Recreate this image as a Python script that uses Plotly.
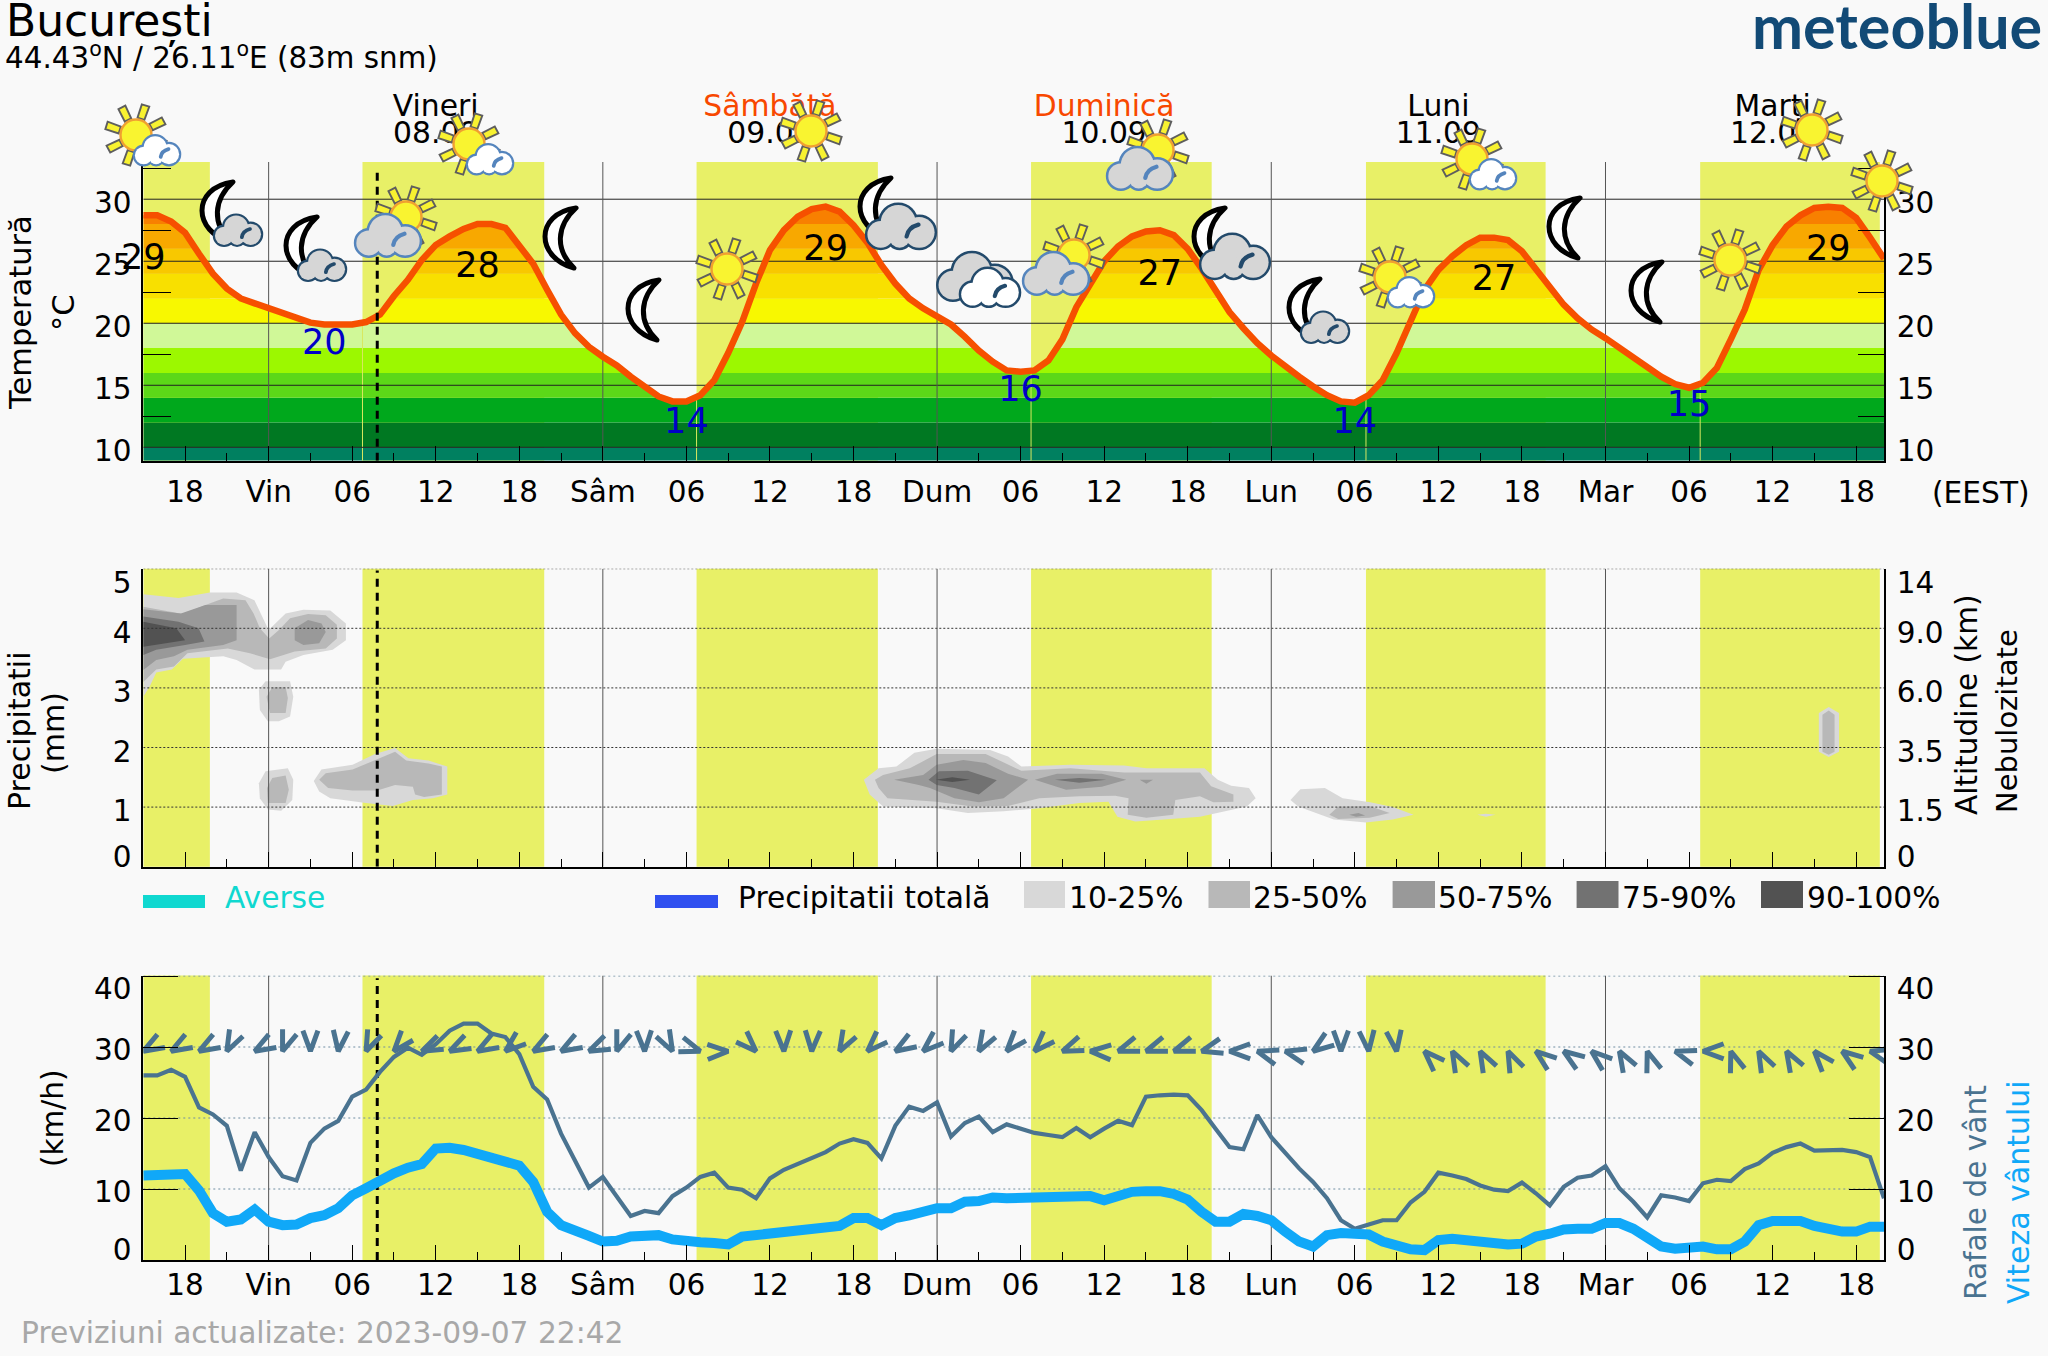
import base64, math
import plotly.graph_objects as go

W, H = 2048, 1356
FONT = "DejaVu Sans"
BG = "#f9f9f9"
YELLOW = "#e8f067"
PX_PER_H = 13.925

hours = list(range(126))
tick_hours = [3, 9, 15, 21, 27, 33, 39, 45, 51, 57, 63, 69, 75, 81, 87, 93, 99, 105, 111, 117, 123]
tick_labels = ["18", "Vin", "06", "12", "18", "Sâm", "06", "12", "18", "Dum", "06", "12", "18",
               "Lun", "06", "12", "18", "Mar", "06", "12", "18"]
minor_hours = [6, 12, 18, 24, 30, 36, 42, 48, 54, 60, 66, 72, 78, 84, 90, 96, 102, 108, 114, 120]
midnights = [9, 33, 57, 81, 105]
now_hour = 16.8
day_bands = [(0, 4.78), (15.74, 28.79), (39.73, 52.75), (63.75, 76.72), (87.8, 100.7), (111.8, 124.7)]
sunrises = [15.74, 39.73, 63.75, 87.8, 111.8]

temperature = [28.7, 28.7, 28.2, 27.3, 25.6, 24.0, 22.8, 22.0, 21.6, 21.2, 20.9, 20.4, 20.05, 19.9, 19.9, 19.9,
               20.1, 20.7, 22.2, 23.5, 25.1, 26.3, 27.0, 27.6, 28.0, 28.0, 27.7, 26.3, 24.8, 22.7, 20.7, 19.2,
               18.1, 17.3, 16.6, 15.7, 14.9, 14.1, 13.7, 13.7, 14.2, 15.4, 17.6, 20.1, 23.2, 25.9, 27.5, 28.6,
               29.2, 29.4, 29.0, 27.9, 26.5, 24.7, 23.2, 22.0, 21.2, 20.5, 19.9, 18.9, 17.8, 16.9, 16.2, 16.1,
               16.2, 17.0, 18.7, 21.3, 23.2, 25.0, 26.2, 27.0, 27.4, 27.5, 27.1, 26.0, 24.4, 22.7, 20.9, 19.6,
               18.4, 17.4, 16.5, 15.7, 14.9, 14.2, 13.7, 13.6, 14.2, 15.4, 17.6, 20.3, 22.7, 24.3, 25.4, 26.3,
               26.9, 26.9, 26.7, 25.8, 24.4, 22.8, 21.5, 20.4, 19.5, 18.8, 18.0, 17.2, 16.4, 15.7, 15.1, 14.8,
               15.2, 16.4, 18.7, 21.1, 24.3, 26.3, 27.8, 28.7, 29.3, 29.4, 29.3, 28.5, 26.9, 25.2]

temp_band_edges = [8.92, 10, 12, 14, 16, 18, 20, 22, 24, 26, 28, 30]
temp_band_colors = ["#008060", "#007822", "#00a81c", "#5cd818", "#9cf800", "#d0f898",
                    "#f8f800", "#f8e000", "#f8c800", "#f8a800", "#f88000"]

extreme_text = ["29", "28", "29", "27", "27", "29", "20", "14", "16", "14", "15"]
extreme_hour = [0, 24, 49, 73, 97, 121, 13, 39, 63, 87, 111]
extreme_pos = [25.1, 24.4, 25.77, 23.8, 23.4, 25.77, 18.25, 11.85, 14.45, 11.85, 13.2]
extreme_color = ["#000000"] * 6 + ["#0000c8"] * 5

day_names = ["Vineri", "Sâmbătă", "Duminică", "Luni", "Marți"]
day_dates = ["08.09", "09.09", "10.09", "11.09", "12.09"]
day_hour = [21, 45, 69, 93, 117]
day_colors = ["#000000", "#f84800", "#f84800", "#000000", "#000000"]

gusts = [26.0, 26.0, 26.8, 25.8, 21.5, 20.5, 18.9, 12.6, 18.0, 14.5, 11.8, 11.2, 16.5, 18.5, 19.6, 23.0,
         24.0, 26.5, 28.6, 29.9, 28.9, 30.4, 32.3, 33.3, 33.3, 31.9, 31.4, 29.0, 24.4, 22.6, 17.8, 14.1,
         10.2, 11.7, 8.9, 6.2, 6.9, 6.6, 9.0, 10.2, 11.7, 12.3, 10.2, 9.9, 8.7, 11.5, 12.7, 13.5,
         14.3, 15.2, 16.4, 17.0, 16.5, 14.3, 18.9, 21.6, 21.0, 22.2, 17.4, 19.3, 20.2, 18.0, 19.1, 18.5,
         17.9, 17.6, 17.3, 18.6, 17.3, 18.5, 19.6, 19.0, 23.0, 23.2, 23.3, 23.2, 21.1, 18.5, 15.9, 15.6,
         20.4, 17.3, 15.1, 12.9, 11.0, 8.7, 5.6, 4.4, 5.0, 5.6, 5.6, 8.1, 9.6, 12.3, 11.9, 11.4,
         10.5, 9.9, 9.7, 10.9, 9.4, 7.7, 10.3, 11.6, 11.9, 13.2, 10.1, 8.2, 6.0, 9.1, 8.8, 8.3,
         10.8, 11.3, 11.1, 12.8, 13.6, 15.1, 15.9, 16.4, 15.4, 15.5, 15.5, 15.2, 14.5, 8.7]

wind_speed = [11.9, 11.9, 12.1, 12.1, 9.8, 6.6, 5.4, 5.7, 7.1, 5.4, 4.9, 5.0, 5.9, 6.3, 7.3, 9.1,
              10.1, 11.3, 12.2, 13.0, 13.5, 15.7, 15.8, 15.5, 15.0, 14.3, 14.1, 13.3, 11.0, 6.8, 4.9, 4.0,
              3.4, 2.6, 2.7, 3.3, 3.5, 3.5, 2.9, 2.6, 2.5, 2.4, 2.2, 3.3, 3.5, 3.8, 4.1, 4.1,
              4.2, 4.7, 4.8, 5.9, 5.9, 4.9, 5.9, 6.3, 6.9, 7.3, 7.3, 8.2, 8.3, 8.8, 8.7, 8.7,
              8.7, 8.7, 8.7, 9.0, 9.0, 8.4, 8.9, 9.6, 9.7, 9.7, 9.3, 8.5, 6.8, 5.4, 5.4, 6.5,
              6.2, 5.6, 4.0, 2.6, 1.9, 3.5, 3.8, 3.8, 3.6, 2.6, 2.0, 1.5, 1.4, 2.8, 3.0, 2.8,
              2.7, 2.3, 2.2, 2.3, 3.3, 3.7, 4.3, 4.4, 4.4, 5.2, 5.2, 4.4, 3.3, 1.9, 1.6, 1.6,
              1.9, 1.5, 1.5, 2.6, 4.9, 5.5, 5.5, 5.5, 4.8, 4.4, 4.0, 4.0, 4.7, 4.7]

# direction each arrow points to, in degrees clockwise from north, one every two hours
wind_bearing = [240, 240, 240, 207, 240, 200, 180, 187, 204, 220, 245, 243, 240, 230, 240, 240,
                245, 200, 178, 152, 109, 88, 135, 178, 183, 209, 225, 238, 228, 204, 210, 221,
                224, 248, 273, 250, 250, 250, 255, 270, 287, 284, 234, 180, 174, 172, 315, 332,
                332, 335, 308, 305, 310, 330, 341, 288, 270, 341, 333, 330, 319, 306, 285]
wind_level = 29.4

# cloud layers, in (hour, height on the left scale)
cloud_10_25 = [
    [(0, 4.57), (2.53, 4.51), (4.78, 4.6), (6.7, 4.6), (7.98, 4.47), (8.62, 4.17), (9, 3.97), (10.22, 4.25),
     (11.5, 4.31), (13.43, 4.3), (14.55, 4.08), (14.55, 3.8), (13.6, 3.64), (11.5, 3.55), (10.22, 3.44),
     (9.9, 3.31), (7.98, 3.31), (6.7, 3.47), (5.74, 3.53), (2.85, 3.49), (2.05, 3.31), (0.93, 3.26),
     (0.45, 3.02), (0, 2.85)],
    [(8.3, 2.97), (8.78, 3.11), (10.54, 3.11), (10.77, 2.85), (10.54, 2.52), (9.74, 2.44), (8.94, 2.44), (8.37, 2.63)],
    [(8.3, 1.4), (8.78, 1.6), (10.38, 1.65), (10.77, 1.46), (10.7, 1.12), (9.9, 0.94), (8.94, 0.96), (8.37, 1.15)],
    [(12.24, 1.44), (12.79, 1.63), (15.03, 1.71), (16.63, 1.89), (18.08, 1.99), (19.04, 1.82), (20.48, 1.78),
     (21.83, 1.68), (21.83, 1.21), (20.8, 1.15), (19.36, 1.12), (17.92, 1.02), (15.99, 1.07), (13.43, 1.15), (12.63, 1.26)],
    [(51.74, 1.46), (52.8, 1.65), (54.08, 1.68), (55.37, 1.91), (56.97, 1.98), (60.81, 1.96), (62.1, 1.85),
     (63.06, 1.68), (66.58, 1.71), (70.43, 1.70), (72.03, 1.65), (76.2, 1.65), (77.16, 1.46), (78.12, 1.36),
     (79.4, 1.32), (79.88, 1.15), (79.24, 1.01), (75.88, 0.84), (73.31, 0.79), (71.23, 0.76), (69.95, 0.84),
     (69.31, 1.09), (67.22, 1.07), (64.34, 0.98), (61.78, 0.93), (59.21, 0.9), (56.97, 0.98), (53.12, 1.01), (52.16, 1.21)],
    [(82.38, 1.12), (83.09, 1.3), (84.85, 1.32), (86.13, 1.15), (88.11, 1.08), (89.72, 1.0), (91.22, 0.87),
     (89.72, 0.79), (87.79, 0.74), (85.49, 0.79), (84.21, 0.9), (82.93, 1.01)],
    [(95.8, 0.87), (96.4, 0.89), (97.1, 0.87), (96.4, 0.84)],
    [(120.32, 2.58), (121.03, 2.68), (121.77, 2.58), (121.77, 1.93), (121.03, 1.84), (120.32, 1.93)],
]
cloud_25_50 = [
    [(0, 4.36), (2.85, 4.24), (4.46, 4.39), (5.74, 4.5), (7.34, 4.47), (7.92, 4.25), (8.37, 4.0), (9.04, 3.83),
     (9.74, 3.97), (10.54, 4.17), (11.83, 4.24), (13.1, 4.22), (13.9, 4.06), (13.9, 3.83), (13.1, 3.66),
     (10.87, 3.61), (9.1, 3.48), (7.66, 3.58), (6.06, 3.66), (3.17, 3.58), (2.2, 3.36), (0.93, 3.31), (0, 3.1)],
    [(8.85, 2.85), (9.26, 3.01), (10.22, 3.01), (10.38, 2.83), (10.22, 2.58), (9.1, 2.58)],
    [(8.88, 1.32), (9.26, 1.49), (10.22, 1.53), (10.45, 1.29), (10.22, 1.07), (8.94, 1.07)],
    [(12.63, 1.46), (13.1, 1.57), (15.03, 1.63), (16.63, 1.79), (18.08, 1.93), (18.88, 1.78), (20.48, 1.73),
     (21.44, 1.68), (21.44, 1.21), (20.16, 1.17), (19.52, 1.21), (19.36, 1.34), (18.08, 1.37), (16.8, 1.28),
     (15.03, 1.28), (13.27, 1.32)],
    [(52.54, 1.46), (53.12, 1.54), (55.04, 1.65), (56.97, 1.89), (60.49, 1.89), (63.06, 1.61), (66.58, 1.65),
     (70.43, 1.58), (72.03, 1.58), (75.88, 1.58), (76.68, 1.35), (78.28, 1.21), (78.28, 1.09), (76.84, 1.08),
     (75.88, 1.18), (74.11, 1.12), (73.96, 0.87), (72.03, 0.82), (70.69, 0.87), (70.75, 1.15), (69.79, 1.19),
     (67.22, 1.18), (64.34, 1.15), (62.1, 1.02), (59.53, 1.01), (56.97, 1.09), (53.44, 1.15), (52.8, 1.32)],
    [(85.17, 0.87), (85.81, 1.01), (88.06, 1.02), (89.5, 0.9), (88.06, 0.82), (85.81, 0.8)],
    [(120.58, 2.55), (121.03, 2.62), (121.45, 2.55), (121.45, 1.93), (121.03, 1.88), (120.58, 1.93)],
]
cloud_50_75 = [
    [(0, 4.32), (2.7, 4.25), (4.46, 4.39), (6.7, 4.39), (6.7, 3.8), (5.74, 3.72), (3.17, 3.64), (2.2, 3.53), (0.93, 3.47), (0, 3.3)],
    [(10.87, 4.0), (11.83, 4.14), (12.8, 4.08), (13.1, 3.94), (12.63, 3.75), (11.5, 3.72), (10.87, 3.8)],
    [(53.92, 1.46), (56.0, 1.54), (56.97, 1.71), (58.89, 1.79), (60.49, 1.74), (62.1, 1.56), (63.54, 1.46),
     (61.78, 1.15), (60.0, 1.08), (58.25, 1.15), (56.49, 1.32), (55.69, 1.37)],
    [(64.02, 1.46), (65.62, 1.56), (68.83, 1.56), (70.59, 1.46), (68.83, 1.34), (66.26, 1.29)],
    [(71.55, 1.46), (72.51, 1.46), (72.03, 1.39)],
    [(86.6, 0.87), (87.26, 0.9), (87.74, 0.86), (87.1, 0.84)],
]
cloud_75_90 = [
    [(0, 4.2), (2.53, 4.11), (3.97, 4.0), (4.39, 3.78), (3.0, 3.72), (0.93, 3.64), (0, 3.55)],
    [(56.39, 1.46), (57.13, 1.6), (59.21, 1.61), (61.29, 1.45), (60.0, 1.21), (58.25, 1.32), (56.97, 1.37)],
    [(65.46, 1.46), (67.22, 1.49), (69.15, 1.46), (67.22, 1.41)],
]
cloud_90_100 = [
    [(0, 4.11), (2.37, 4.0), (3.0, 3.8), (0.93, 3.72), (0, 3.69)],
    [(56.9, 1.46), (58.09, 1.5), (59.37, 1.46), (58.09, 1.42)],
]
cloud_colors = ["#d8d8d8", "#b8b8b8", "#999999", "#727272", "#525252"]
legend_labels = ["10-25%", "25-50%", "50-75%", "75-90%", "90-100%"]

# icons: kind, centre pixel of the sun or moon
icons = [("sun_wc", 136, 135), ("moon_sc", 218, 212), ("moon_sc", 302, 247), ("sun_gc", 406, 217),
         ("sun_wc", 469, 144), ("moon", 561, 238), ("moon", 644, 310), ("sun", 727, 269), ("sun", 811, 131),
         ("moon_lc", 876, 208), ("cloud2", 978, 280), ("sun_gc", 1074, 255), ("sun_gc", 1158, 150),
         ("moon_lc", 1210, 238), ("moon_sc", 1305, 309), ("sun_wc", 1390, 277), ("sun_wc", 1472, 159),
         ("moon", 1565, 228), ("moon", 1647, 292), ("sun", 1730, 260), ("sun", 1812, 130), ("sun", 1882, 181)]

ICON_SIZE = 170


def svg_sun(cx, cy):
    out = []
    for k in range(8):
        a = 17 + 45 * k
        out.append(f'<g transform="translate({cx} {cy}) rotate({a})">'
                   '<path d="M-3.6 -17 L3.6 -17 L4.4 -31 L-3.4 -31 Z" fill="#f8f230" stroke="#5e5e5e" stroke-width="1.9"/></g>')
    out.append(f'<ellipse cx="{cx}" cy="{cy}" rx="15.5" ry="15.5" fill="#f9f430" stroke="#f0a030" stroke-width="2.4"/>')
    return "".join(out)


def svg_moon(cx, cy):
    return (f'<g transform="translate({cx} {cy})"><path d="M15 -30 C-27 -24 -25 20 13 30 C-6 12 -5 -12 15 -30 Z" '
            'fill="#ffffff" stroke="#000000" stroke-width="5" stroke-linejoin="round"/></g>')


def svg_cloud(cx, cy, w, fill, stroke, sw):
    s = w / 100.0
    circles = [(21, 44, 19), (46, 27, 25), (76, 41, 22), (48, 48, 15)]
    sw_local = sw / s
    out = [f'<g transform="translate({cx - 50 * s} {cy - 32 * s}) scale({s})">']
    for c in circles:
        out.append(f'<circle cx="{c[0]}" cy="{c[1]}" r="{c[2]}" fill="{stroke}" stroke="{stroke}" stroke-width="{sw_local}"/>')
    for c in circles:
        out.append(f'<circle cx="{c[0]}" cy="{c[1]}" r="{c[2]}" fill="{fill}"/>')
    out.append(f'<path d="M58 47 Q60 34 75 30" fill="none" stroke="{stroke}" stroke-width="{sw_local * 0.85}" stroke-linecap="round"/>')
    out.append('</g>')
    return "".join(out)


def icon_svg(kind):
    c = ICON_SIZE / 2
    BLUE, DARK, GREY = "#5585bd", "#234a6b", "#d6d6d6"
    if kind == "sun":
        body = svg_sun(c, c)
    elif kind == "sun_wc":
        body = svg_sun(c, c) + svg_cloud(c + 21, c + 15, 46, "#ffffff", BLUE, 4.4)
    elif kind == "sun_gc":
        body = svg_sun(c, c) + svg_cloud(c - 18, c + 18, 66, GREY, BLUE, 5)
    elif kind == "moon":
        body = svg_moon(c, c)
    elif kind == "moon_sc":
        body = svg_moon(c, c) + svg_cloud(c + 20, c + 18, 48, GREY, DARK, 4.4)
    elif kind == "moon_lc":
        body = svg_moon(c, c) + svg_cloud(c + 25, c + 18, 70, GREY, DARK, 5)
    else:
        body = svg_cloud(c - 3, c - 4, 76, GREY, DARK, 5) + svg_cloud(c + 12, c + 7, 60, "#ffffff", DARK, 5)
    svg = (f'<svg xmlns="http://www.w3.org/2000/svg" width="{ICON_SIZE}" height="{ICON_SIZE}" '
           f'viewBox="0 0 {ICON_SIZE} {ICON_SIZE}">{body}</svg>')
    return "data:image/svg+xml;base64," + base64.b64encode(svg.encode()).decode()


def px_x(x):
    return x / W


def px_y(y):
    return 1 - y / H


X0, X1 = 143.3, 1884.0
XR = [0, 125]
T_RANGE = [8.92, 33.0]
P_RANGE = [0, 5]
W_RANGE = [0, 40.07]

fig = go.Figure()


def skip(**kw):
    t = go.Scatter(hoverinfo="skip", showlegend=False, **kw)
    fig.add_trace(t)


# --- temperature panel ---
for lo, hi, col in zip(temp_band_edges[:-1], temp_band_edges[1:], temp_band_colors):
    xs, ys = [], []
    for i, (h, t) in enumerate(zip(hours, temperature)):
        xs.append(h)
        ys.append(min(max(t, lo), hi))
        if i + 1 < len(hours):
            t2 = temperature[i + 1]
            cross = []
            for edge in (lo, hi):
                if (t - edge) * (t2 - edge) < 0:
                    cross.append((h + (edge - t) / (t2 - t), edge))
            for c in sorted(cross):
                xs.append(c[0])
                ys.append(c[1])
    skip(x=xs + xs[::-1], y=ys + [lo] * len(xs), mode="lines", line=dict(width=0), fill="toself",
         fillcolor=col, xaxis="x", yaxis="y")

sx, sy = [], []
for s in sunrises:
    low = [t for h, t in zip(hours, temperature) if h == round(s)][0]
    sx += [s, s, None]
    sy += [T_RANGE[0], low, None]
skip(x=sx, y=sy, mode="lines", line=dict(color="#d8e860", width=1), xaxis="x", yaxis="y")

gx, gy = [], []
for v in [10, 15, 20, 25, 30]:
    gx += [XR[0], XR[1], None]
    gy += [v, v, None]
skip(x=gx, y=gy, mode="lines", line=dict(color="#222222", width=1), xaxis="x", yaxis="y")

mx, my = [], []
for m in midnights:
    mx += [m, m, None]
    my += [T_RANGE[0], T_RANGE[1] + 0.1, None]
skip(x=mx, y=my, mode="lines", line=dict(color="#555555", width=1), xaxis="x", yaxis="y", cliponaxis=False)

skip(x=hours, y=temperature, mode="lines", line=dict(color="#f65000", width=6.5), xaxis="x", yaxis="y")
skip(x=extreme_hour, y=extreme_pos, mode="text", text=extreme_text,
     textfont=dict(family=FONT, size=35, color=extreme_color), textposition="middle center",
     xaxis="x", yaxis="y", cliponaxis=False)
skip(x=[now_hour, now_hour], y=[T_RANGE[0], 32.43], mode="lines",
     line=dict(color="#000000", width=3, dash="8px,6px"), xaxis="x", yaxis="y")

# day headings, on a hidden strip that continues the temperature scale upward
skip(x=day_hour, y=[37.28] * 5, mode="text", text=day_names,
     textfont=dict(family=FONT, size=29.8, color=day_colors), textposition="middle center",
     xaxis="x4", yaxis="y7", cliponaxis=False)
skip(x=day_hour, y=[35.11] * 5, mode="text", text=day_dates,
     textfont=dict(family=FONT, size=29.8, color="#000000"), textposition="middle center",
     xaxis="x4", yaxis="y7", cliponaxis=False)

# --- cloud panel ---
for layer, col in zip([cloud_10_25, cloud_25_50, cloud_50_75, cloud_75_90, cloud_90_100], cloud_colors):
    for poly in layer:
        skip(x=[p[0] for p in poly] + [poly[0][0]], y=[p[1] for p in poly] + [poly[0][1]], mode="lines",
             line=dict(width=0), fill="toself", fillcolor=col, xaxis="x2", yaxis="y2")

gx, gy = [], []
for v in [1, 2, 3, 4, 5]:
    gx += [XR[0], XR[1], None]
    gy += [v, v, None]
skip(x=gx, y=gy, mode="lines", line=dict(color="#333333", width=1, dash="2px,2px"), xaxis="x2", yaxis="y2", cliponaxis=False)
mx, my = [], []
for m in midnights:
    mx += [m, m, None]
    my += [P_RANGE[0], P_RANGE[1], None]
skip(x=mx, y=my, mode="lines", line=dict(color="#555555", width=1), xaxis="x2", yaxis="y2")
skip(x=[now_hour, now_hour], y=[0, 4.97], mode="lines", line=dict(color="#000000", width=3, dash="8px,6px"),
     xaxis="x2", yaxis="y2")

# --- wind panel ---
gx, gy = [], []
for v in [10, 20, 30, 40]:
    gx += [XR[0], XR[1], None]
    gy += [v, v, None]
skip(x=gx, y=gy, mode="lines", line=dict(color="#6f8ea3", width=1, dash="2px,3px"), xaxis="x3", yaxis="y3", cliponaxis=False)
mx, my = [], []
for m in midnights:
    mx += [m, m, None]
    my += [W_RANGE[0], W_RANGE[1], None]
skip(x=mx, y=my, mode="lines", line=dict(color="#555555", width=1), xaxis="x3", yaxis="y3")
skip(x=[now_hour, now_hour], y=[0, 39.7], mode="lines", line=dict(color="#000000", width=3, dash="8px,6px"),
     xaxis="x3", yaxis="y3")

skip(x=hours, y=gusts, mode="lines", line=dict(color="#4a7390", width=4.2), xaxis="x3", yaxis="y3")

PX_PER_KMH = (1260 - 975.5) / W_RANGE[1]
ARM, HALF = 22.0, 20.0
ax_, ay_ = [], []
for i, b in enumerate(wind_bearing):
    h = i * 2
    back = b + 180
    p1 = math.radians(back - HALF)
    p2 = math.radians(back + HALF)
    ax_ += [h + ARM * math.sin(p1) / PX_PER_H, h, h + ARM * math.sin(p2) / PX_PER_H, None]
    ay_ += [wind_level + ARM * math.cos(p1) / PX_PER_KMH, wind_level, wind_level + ARM * math.cos(p2) / PX_PER_KMH, None]
skip(x=ax_, y=ay_, mode="lines", line=dict(color="#4a7390", width=5), xaxis="x3", yaxis="y3", cliponaxis=False)
skip(x=hours, y=wind_speed, mode="lines", line=dict(color="#10a8f8", width=10), xaxis="x3", yaxis="y3")

# empty traces that keep the right-hand axes alive
for ya in ["y4", "y5", "y6"]:
    skip(x=[None], y=[None], xaxis={"y4": "x", "y5": "x2", "y6": "x3"}[ya], yaxis=ya)


def xaxis(domain_anchor, labels, standoff=0):
    d = dict(domain=[px_x(X0), px_x(X1)], range=XR, anchor=domain_anchor, showgrid=False, zeroline=False,
             automargin=False, showline=True, linecolor="#000000", linewidth=1.5,
             tickmode="array", tickvals=tick_hours,
             ticks="inside", ticklen=15, tickcolor="#000000", tickwidth=1,
             tickangle=0,
             minor=dict(tickmode="array", tickvals=minor_hours, ticks="inside", ticklen=8, tickcolor="#000000", tickwidth=1, showgrid=False),
             tickfont=dict(family=FONT, size=29.5, color="#000000"), showticklabels=labels)
    if labels:
        d["ticktext"] = tick_labels
        d["ticklabelstandoff"] = standoff
    return d


def yaxis(dom, rng, vals, text, minor_vals=None, minor_len=0, side="left", anchor="x", overlaying=None, shift=3):
    d = dict(domain=[px_y(dom[1]), px_y(dom[0])], range=rng, anchor=anchor, side=side, showgrid=False, zeroline=False,
             automargin=False, showline=True, linecolor="#000000", linewidth=1.5,
             tickmode="array", tickvals=vals, ticktext=text, ticks="", tickangle=0,
             tickfont=dict(family=FONT, size=29.5, color="#000000"),
             ticklabelstandoff=4 if side == "left" else 5, ticklabelshift=shift)
    if minor_vals:
        d["minor"] = dict(tickmode="array", tickvals=minor_vals, ticks="inside", ticklen=minor_len,
                          tickcolor="#000000", tickwidth=1, showgrid=False)
    if overlaying:
        d["overlaying"] = overlaying
    return d


temp_ticks = [10, 15, 20, 25, 30]
temp_minor = [12.5, 17.5, 22.5, 27.5, 32.5]
prec_ticks = [0.235, 1, 2, 3, 4, 4.83]
prec_left = ["0", "1", "2", "3", "4", "5"]
prec_right = ["0", "1.5", "3.5", "6.0", "9.0", "14"]
wind_ticks = [1.83, 10, 20, 30, 38.7]
wind_labels = ["0", "10", "20", "30", "40"]
wind_minor = [10, 20, 30, 40]

D1, D2, D3 = (162, 460.7), (568.7, 866.7), (975.5, 1260)

annotations = []


def note(text, x, y, size=29.7, color="#000000", anchor="center", angle=0, family=FONT, **kw):
    annotations.append(dict(text=text, x=px_x(x), y=px_y(y), xref="paper", yref="paper", showarrow=False,
                            xanchor=anchor, yanchor="middle", textangle=angle,
                            font=dict(family=family, size=size, color=color, **kw)))


note("București", 4, 21, size=44, anchor="left")
note("44.43<sup>o</sup>N / 26.11<sup>o</sup>E (83m snm)", 3, 56, size=29.4, anchor="left")
note("meteoblue", 2044, 26, size=61, color="#124a76", anchor="right", family="Lato", weight=700)
note("(EEST)", 1981, 492)
note("Temperatură", 20, 313, size=30.5, angle=-90)
note("°C", 63, 313, size=30.5, angle=-90)
note("Precipitatii", 19, 731, size=30, angle=-90)
note("(mm)", 53, 733, size=30, angle=-90)
note("(km/h)", 53, 1119, size=29.5, angle=-90)
note("Altitudine (km)", 1967, 705, size=29.5, angle=-90)
note("Nebulozitate", 2007, 721, size=29, angle=-90)
note("Rafale de vânt", 1976, 1193, size=29.6, color="#4a7390", angle=-90)
note("Viteza vântului", 2018, 1192, size=30, color="#10a8f8", angle=-90)
note("Previziuni actualizate: 2023-09-07 22:42", 19, 1332, color="#a8a8a8", anchor="left")
note("Averse", 223, 898, color="#10d8d0", anchor="left")
note("Precipitatii totală", 736, 898, anchor="left")
legend_text_x = [1067, 1251, 1436, 1620, 1805]
legend_box_x = [(1024, 1065), (1208.5, 1250), (1392.6, 1435), (1576.6, 1618.5), (1761, 1803)]
for t, x in zip(legend_labels, legend_text_x):
    note(t, x, 898, anchor="left")

shapes = []
for xref, yref in [("x", "y domain"), ("x2", "y2 domain"), ("x3", "y3 domain")]:
    for a, b in day_bands:
        shapes.append(dict(type="rect", xref=xref, yref=yref, x0=a, x1=b, y0=0, y1=1, fillcolor=YELLOW,
                           line=dict(width=0), layer="below"))


def box(x0, x1, y0, y1, col):
    shapes.append(dict(type="rect", xref="paper", yref="paper", x0=px_x(x0), x1=px_x(x1), y0=px_y(y1), y1=px_y(y0),
                       fillcolor=col, line=dict(width=0), layer="above"))


box(143, 205, 895, 908, "#10d8d0")
box(655, 718, 895, 908, "#3050f0")
for (a, b), c in zip(legend_box_x, cloud_colors):
    box(a, b, 881, 908, c)

images = []
for kind, cx, cy in icons:
    images.append(dict(source=icon_svg(kind), xref="paper", yref="paper", x=px_x(cx), y=px_y(cy),
                       sizex=ICON_SIZE / W, sizey=ICON_SIZE / H, xanchor="center", yanchor="middle",
                       sizing="stretch", layer="above"))

fig.update_layout(
    width=W, height=H, margin=dict(l=0, r=0, t=0, b=0), autosize=False,
    paper_bgcolor=BG, plot_bgcolor=BG, showlegend=False, hovermode=False,
    font=dict(family=FONT, size=29, color="#000000"),
    xaxis=xaxis("y", True, 4),
    xaxis2=xaxis("y2", False),
    xaxis3=xaxis("y3", True, -2),
    xaxis4=dict(domain=[px_x(X0), px_x(X1)], range=XR, anchor="y7", visible=False, automargin=False),
    yaxis=yaxis(D1, T_RANGE, temp_ticks, [str(v) for v in temp_ticks], temp_minor, 28, anchor="x"),
    yaxis2=yaxis(D2, P_RANGE, prec_ticks, prec_left, anchor="x2", shift=4),
    yaxis3=yaxis(D3, W_RANGE, wind_ticks, wind_labels, wind_minor, 35, anchor="x3"),
    yaxis4=yaxis(D1, T_RANGE, temp_ticks, [str(v) for v in temp_ticks], temp_minor, 26, side="right", anchor="x", overlaying="y"),
    yaxis5=yaxis(D2, P_RANGE, prec_ticks, prec_right, side="right", anchor="x2", overlaying="y2", shift=4),
    yaxis6=yaxis(D3, W_RANGE, wind_ticks, wind_labels, wind_minor, 35, side="right", anchor="x3", overlaying="y3"),
    yaxis7=dict(domain=[px_y(162), 1], range=[33.0, 33.0 + 162 / 12.4], anchor="x4", visible=False, automargin=False),
    annotations=annotations, shapes=shapes, images=images,
)

fig.write_html("out.html", config=dict(displayModeBar=False),
               post_script="document.body.style.margin='0';document.body.style.background='#f9f9f9';")
